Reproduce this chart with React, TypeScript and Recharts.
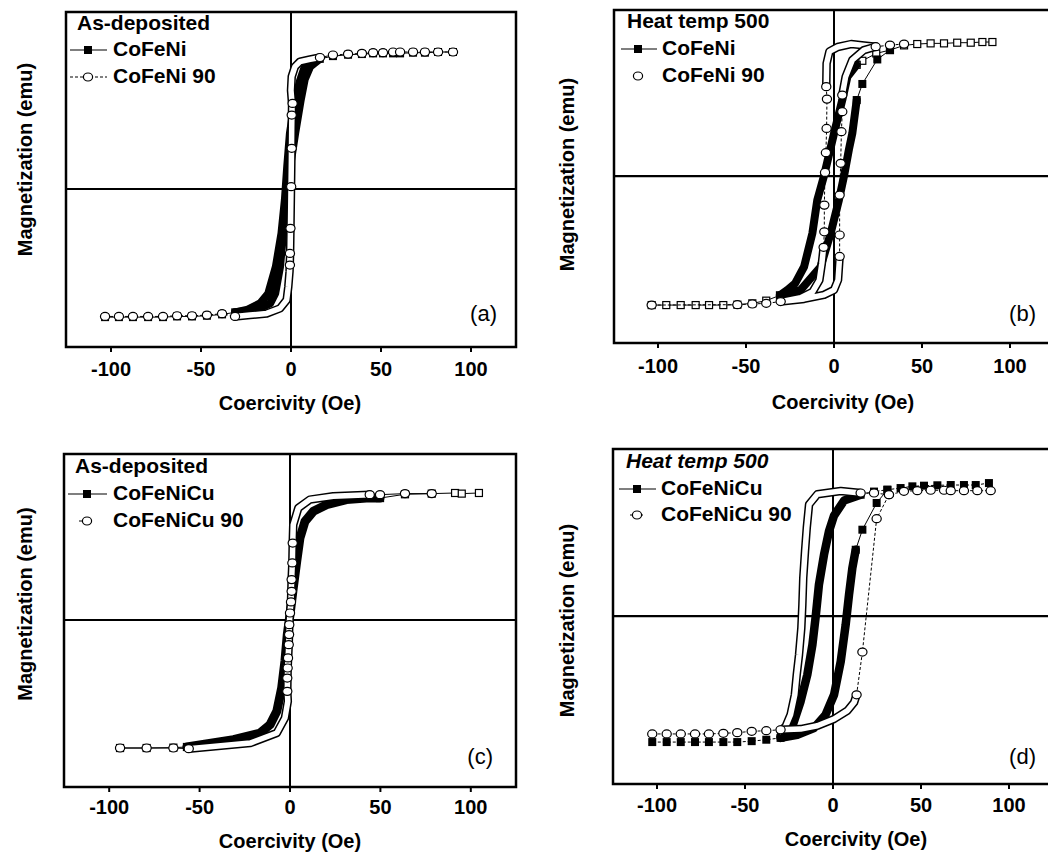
import React from 'react'
import {
  ScatterChart,
  Scatter,
  XAxis,
  YAxis,
  ReferenceLine,
  ReferenceArea,
  Legend,
  Label,
} from 'recharts'

type Pt = [number, number]

const FONT = "'Liberation Sans', Arial, Helvetica, sans-serif"
const coercivityTicks = [-100, -50, 0, 50, 100]
const xLabel = 'Coercivity (Oe)'
const yLabel = 'Magnetization (emu)'

// (a) as-deposited CoFeNi / CoFeNi 90
const aFilledDesc: Pt[] = [[16, 0.95], [10, 0.915], [7.3, 0.88], [5, 0.79], [2.3, 0.65], [-0.6, 0.406], [-2.1, 0.163], [-3.4, -0.08], [-5.3, -0.324], [-8.4, -0.567], [-12.6, -0.762], [-17.2, -0.835], [-24, -0.88], [-31, -0.9]]
const aFilledAsc: Pt[] = [[-31, -0.9], [-20, -0.885], [-11.6, -0.835], [-8.8, -0.762], [-6.1, -0.567], [-4.4, -0.324], [-2, -0.08], [-0.5, 0.163], [2.3, 0.406], [5.4, 0.65], [7.6, 0.8], [10.6, 0.893], [16, 0.95]]
const aFilledLow: Pt[] = [[-103.3, -0.935], [-95.6, -0.935], [-87.8, -0.935], [-79.4, -0.935], [-71.1, -0.935], [-63.3, -0.93], [-55, -0.93], [-46.7, -0.925], [-38.3, -0.915], [-31, -0.9]]
const aFilledHigh: Pt[] = [[16, 0.95], [23.3, 0.97], [31.7, 0.98], [39.4, 0.985], [45.6, 0.99], [51.1, 0.99], [56.7, 0.99], [60.6, 0.99], [67.8, 0.995], [74.4, 0.995], [81.7, 1], [90, 1]]
const aOpenTube: Pt[] = [[16.1, 0.96], [10.6, 0.946], [5, 0.93], [2.2, 0.893], [0.4, 0.82], [0, 0.72], [0.6, 0.62], [0.4, 0.45], [0.2, 0.2], [0, 0], [-0.3, -0.29], [-0.5, -0.47], [-0.8, -0.6], [-1.5, -0.713], [-2.4, -0.81], [-6.1, -0.871], [-13.5, -0.908], [-22.8, -0.92], [-31.1, -0.93]]
const aOpenMid: Pt[] = [[0.9, 0.625], [0.4, 0.54], [0.4, 0.297], [0.1, 0.017], [-0.3, -0.287], [-0.6, -0.47], [-0.6, -0.555]]
const aOpenLow: Pt[] = [[-103.3, -0.93], [-95.6, -0.93], [-87.8, -0.93], [-79.4, -0.93], [-71.1, -0.93], [-63.3, -0.925], [-55, -0.925], [-46.7, -0.92], [-38.3, -0.91], [-31.1, -0.93]]
const aOpenHigh: Pt[] = [[16.1, 0.96], [23.3, 0.978], [31.7, 0.985], [39.4, 0.99], [45.6, 0.995], [51.1, 0.995], [56.7, 1], [60.6, 1], [67.8, 1], [74.4, 1], [81.7, 1], [90, 1]]

// (b) heat temp 500 CoFeNi / CoFeNi 90
const bFilledDesc: Pt[] = [[12.9, 0.83], [7.6, 0.74], [4.7, 0.567], [0, 0.318], [-5.7, 0], [-9.5, -0.179], [-12.3, -0.428], [-17, -0.677], [-22, -0.8], [-26.5, -0.85], [-30.7, -0.89]]
const bFilledAsc: Pt[] = [[-30.7, -0.89], [-18.9, -0.85], [-7.6, -0.677], [-1.9, -0.428], [2.8, -0.179], [5.7, 0], [8.5, 0.2], [10.4, 0.318], [12.9, 0.567]]
const bFilledHigh: Pt[] = [[90, 1], [84.3, 1], [77.7, 0.995], [70, 0.995], [62.5, 0.99], [54.9, 0.99], [47.3, 0.985], [39.8, 0.975], [31.8, 0.94], [24, 0.915], [16.1, 0.86], [12.9, 0.83]]
const bFilledRise: Pt[] = [[12.9, 0.567], [16.1, 0.687], [24.6, 0.87], [31.8, 0.94]]
const bFilledLow: Pt[] = [[-30.7, -0.89], [-38.5, -0.93], [-46.4, -0.95], [-54.9, -0.96], [-62.9, -0.963], [-71, -0.963], [-78.6, -0.963], [-87.1, -0.963], [-95.3, -0.963], [-103.6, -0.963]]
const bOpenTubeTop: Pt[] = [[23.7, 0.965], [17, 0.975], [9.7, 0.985], [2.1, 0.963], [-2.6, 0.93], [-4.2, 0.84], [-4.4, 0.667]]
const bOpenLeft: Pt[] = [[-4.4, 0.667], [-4, 0.574], [-4.2, 0.355], [-4.6, 0.174], [-5.1, 0.027], [-5.5, -0.217], [-5.5, -0.416], [-5.9, -0.532]]
const bOpenTubeLow: Pt[] = [[-5.9, -0.532], [-6.9, -0.652], [-8.3, -0.776], [-12.1, -0.863], [-18.9, -0.908], [-30.3, -0.937], [-17, -0.917], [-5.7, -0.887], [0, -0.85], [2.3, -0.776], [3.2, -0.6]]
const bOpenRight: Pt[] = [[3.2, -0.6], [3.2, -0.44], [3.2, -0.142], [3.8, 0.095], [4.2, 0.331], [4.7, 0.48], [4.7, 0.604]]
const bOpenTubeRight: Pt[] = [[4.7, 0.604], [6.6, 0.741], [10.4, 0.866], [17, 0.94], [23.7, 0.965]]
const bOpenHigh: Pt[] = [[23.7, 0.965], [31.8, 0.977], [39.8, 0.985]]
const bOpenLow: Pt[] = [[-30.3, -0.937], [-38.5, -0.95], [-46.4, -0.955], [-54.9, -0.96], [-103.6, -0.963]]

// (c) as-deposited CoFeNiCu / CoFeNiCu 90
const cFilledBand: Pt[] = [[-57, -1.0], [-31.2, -0.942], [-16.5, -0.89], [-11, -0.824], [-7.3, -0.719], [-4.6, -0.535], [-2.8, -0.325], [-1.5, -0.115], [0, 0.042], [1.8, 0.252], [3.7, 0.462], [5.5, 0.646], [8.3, 0.777], [12.9, 0.856], [20.2, 0.908], [31.2, 0.948], [42.2, 0.961], [49.8, 0.96]]
const cFilledHigh: Pt[] = [[49.8, 0.96], [63.6, 0.99], [78.4, 0.995], [91.3, 1], [95, 0.995], [104.5, 1]]
const cFilledLow: Pt[] = [[-57, -1.0], [-64.5, -1.005], [-79.3, -1.008], [-94, -1.008]]
const cOpenTube: Pt[] = [[44.1, 0.987], [23.9, 0.974], [11, 0.948], [4.6, 0.882], [1.8, 0.75], [1.5, 0.606], [1.3, 0.449], [0.9, 0.318], [0.55, 0.142], [0, 0.055], [-0.4, -0.037], [-0.7, -0.194], [-1.3, -0.378], [-1.5, -0.562], [-1.2, -0.64], [-2.8, -0.772], [-7.3, -0.89], [-22, -0.969], [-56, -1.013]]
const cOpenMid: Pt[] = [[1.5, 0.606], [1.3, 0.449], [0.9, 0.318], [0.9, 0.226], [0.55, 0.142], [0, 0.055], [-0.4, -0.037], [-0.5, -0.115], [-0.7, -0.194], [-1.1, -0.299], [-1.3, -0.378], [-1.5, -0.457], [-1.5, -0.562]]
const cOpenHigh: Pt[] = [[44.1, 0.987], [49.8, 0.987], [63.6, 0.995], [78.4, 0.995]]
const cOpenLow: Pt[] = [[-56, -1.013], [-64.5, -1.008], [-79.3, -1.008], [-94, -1.008]]

// (d) heat temp 500 CoFeNiCu / CoFeNiCu 90
const dFilledDesc: Pt[] = [[15.7, 0.926], [6.3, 0.881], [0.6, 0.767], [-2.3, 0.646], [-5.1, 0.468], [-8, 0.239], [-9.8, 0], [-11.7, -0.219], [-14.6, -0.448], [-18.4, -0.651], [-23.1, -0.842], [-29.8, -0.919]]
const dFilledAsc: Pt[] = [[-29.8, -0.93], [-20.3, -0.906], [-10.8, -0.855], [-4.2, -0.753], [0.6, -0.601], [4.4, -0.346], [7.2, -0.066], [9.1, 0.163], [11, 0.366], [12.9, 0.506]]
const dFilledRise: Pt[] = [[12.9, 0.506], [16.7, 0.659], [24.8, 0.863], [30.9, 0.964]]
const dFilledHigh: Pt[] = [[88.6, 1.015], [81.1, 1], [74.4, 1], [66.9, 1], [59.3, 0.998], [51.7, 0.995], [45.1, 0.99], [38.4, 0.977], [30.9, 0.964], [23.3, 0.95], [15.7, 0.926]]
const dFilledLow: Pt[] = [[-29.8, -0.93], [-37.9, -0.944], [-46.2, -0.955], [-54.4, -0.962], [-62.3, -0.962], [-70.5, -0.962], [-78.4, -0.962], [-86.5, -0.962], [-94.5, -0.962], [-102.7, -0.962]]
const dOpenTubeDesc: Pt[] = [[15.7, 0.939], [4.4, 0.954], [-8.9, 0.929], [-13.6, 0.852], [-14.9, 0.674], [-15.9, 0.494], [-16.9, 0.29], [-17.4, 0.087], [-18, -0.092], [-19.3, -0.295], [-20.6, -0.448], [-21.7, -0.601], [-24.1, -0.753], [-26.9, -0.842], [-29.8, -0.88]]
const dOpenTubeAsc: Pt[] = [[-29.8, -0.868], [-18.4, -0.863], [-8.9, -0.837], [0.6, -0.786], [8.2, -0.722], [12, -0.659], [13.4, -0.601]]
const dOpenRise: Pt[] = [[13.4, -0.601], [16.7, -0.275], [24.8, 0.743], [31.8, 0.926]]
const dOpenHigh: Pt[] = [[15.7, 0.939], [23.3, 0.939], [31.8, 0.926], [40.3, 0.952], [47.9, 0.957], [55.5, 0.96], [63.1, 0.96], [66.9, 0.957], [74.4, 0.957], [82, 0.957], [89.6, 0.957]]
const dOpenLow: Pt[] = [[-29.8, -0.868], [-37.9, -0.875], [-46.2, -0.88], [-54.4, -0.89], [-62.3, -0.895], [-70.5, -0.9], [-78.4, -0.9], [-86.5, -0.9], [-94.5, -0.9], [-102.7, -0.9]]

const rows = (pts: Pt[]) => pts.map(([x, y]) => ({ x, y }))

const noShape = () => <g />
const filledSquare = (p: any) => (
  <rect x={p.cx - 4} y={p.cy - 4} width={8} height={8} fill='#000' />
)
const hollowSquare = (p: any) => (
  <rect x={p.cx - 3.5} y={p.cy - 3.5} width={7} height={7} fill='#fff' stroke='#000' strokeWidth={1.2} />
)
const hollowCircle = (p: any) => (
  <ellipse cx={p.cx} cy={p.cy} rx={4.6} ry={4} fill='#fff' stroke='#000' strokeWidth={1.2} />
)

const band = (key: string, pts: Pt[], width = 7) => (
  <Scatter
    key={key}
    data={rows(pts)}
    fill='#000'
    shape={noShape}
    line={{ stroke: '#000', strokeWidth: width, strokeLinejoin: 'round', strokeLinecap: 'round' }}
    isAnimationActive={false}
  />
)

const tube = (key: string, pts: Pt[]) => [
  band(key + '-outer', pts, 8.5),
  <Scatter
    key={key + '-inner'}
    data={rows(pts)}
    fill='#fff'
    shape={noShape}
    line={{ stroke: '#fff', strokeWidth: 5.5, strokeLinejoin: 'round', strokeLinecap: 'round' }}
    isAnimationActive={false}
  />,
]

const marks = (key: string, pts: Pt[], shape: any, dashed: boolean, joined = true) => (
  <Scatter
    key={key}
    data={rows(pts)}
    fill='#000'
    shape={shape}
    line={joined ? { stroke: '#000', strokeWidth: 1, strokeDasharray: dashed ? '3 2' : undefined } : false}
    isAnimationActive={false}
  />
)

interface LegendCfg {
  title: string
  italic?: boolean
  filled: string
  open: string
  titleX: number
  titleY: number
  textX: number
  rowY: [number, number]
  lineFrom: number
  lineTo: number
  markX: number
  openLine?: [number, number]
}

const LegendBox = ({ cfg }: { cfg: LegendCfg }) => {
  const m1 = cfg.rowY[0] - 6
  const m2 = cfg.rowY[1] - 6
  const txt = { fontFamily: FONT, fontWeight: 700, fontSize: 21, fill: '#000' }
  return (
    <svg width={300} height={90} style={{ display: 'block', overflow: 'visible' }}>
      <text x={cfg.titleX} y={cfg.titleY} fontStyle={cfg.italic ? 'italic' : 'normal'} {...txt}>
        {cfg.title}
      </text>
      <line x1={cfg.lineFrom} x2={cfg.lineTo} y1={m1} y2={m1} stroke='#000' strokeWidth={1.2} />
      <rect x={cfg.markX - 4} y={m1 - 4} width={8} height={8} fill='#000' />
      <text x={cfg.textX} y={cfg.rowY[0]} {...txt}>{cfg.filled}</text>
      {cfg.openLine && (
        <line x1={cfg.openLine[0]} x2={cfg.openLine[1]} y1={m2} y2={m2} stroke='#000' strokeWidth={1} strokeDasharray='3 2' />
      )}
      <ellipse cx={cfg.markX} cy={m2} rx={4.6} ry={4} fill='#fff' stroke='#000' strokeWidth={1.2} />
      <text x={cfg.textX} y={cfg.rowY[1]} {...txt}>{cfg.open}</text>
    </svg>
  )
}

interface PanelProps {
  left: number
  top: number
  plotW: number
  plotH: number
  yDomain: [number, number]
  yLabelX: number
  yLabelDy: number
  xLabelDx: number
  xLabelDy: number
  tickMargin: number
  letter: string
  letterRight: number
  letterUp: number
  legend: LegendCfg
  children: React.ReactNode
}

const Panel = (p: PanelProps) => {
  const yw = 100
  const xh = 80
  const px = yw
  const py = 4
  return (
    <div style={{ position: 'absolute', left: p.left - yw, top: p.top - py }}>
      <ScatterChart
        width={yw + p.plotW + 10}
        height={py + p.plotH + xh}
        margin={{ top: py, right: 10, left: 0, bottom: 0 }}
      >
        <XAxis
          type='number'
          dataKey='x'
          domain={[-125, 125]}
          ticks={coercivityTicks}
          allowDataOverflow
          height={xh}
          axisLine={false}
          tickSize={5}
          tickMargin={p.tickMargin}
          tickLine={{ stroke: '#000', strokeWidth: 2 }}
          tick={{ fill: '#000', fontSize: 20, fontWeight: 700, fontFamily: FONT }}
        >
          <Label
            content={() => (
              <text
                x={px + p.plotW / 2 + p.xLabelDx}
                y={py + p.plotH + p.xLabelDy}
                textAnchor='middle'
                dominantBaseline='central'
                fontFamily={FONT}
                fontWeight={700}
                fontSize={20}
                fill='#000'
              >
                {xLabel}
              </text>
            )}
          />
        </XAxis>
        <YAxis
          type='number'
          dataKey='y'
          domain={p.yDomain}
          allowDataOverflow
          width={yw}
          axisLine={false}
          tickLine={false}
          tick={false}
        >
          <Label
            content={() => {
              const cx = px + p.yLabelX
              const cy = py + p.plotH / 2 + p.yLabelDy
              return (
                <text
                  x={cx}
                  y={cy}
                  transform={`rotate(-90 ${cx} ${cy})`}
                  textAnchor='middle'
                  dominantBaseline='central'
                  fontFamily={FONT}
                  fontWeight={700}
                  fontSize={20}
                  fill='#000'
                >
                  {yLabel}
                </text>
              )
            }}
          />
        </YAxis>
        <ReferenceLine x={0} stroke='#000' strokeWidth={2} />
        <ReferenceLine y={0} stroke='#000' strokeWidth={2.2} />
        {p.children}
        <ReferenceArea
          x1={-125}
          x2={125}
          y1={p.yDomain[0]}
          y2={p.yDomain[1]}
          fill='none'
          fillOpacity={0}
          stroke='#000'
          strokeWidth={2.5}
        >
          <Label
            content={() => (
              <text
                x={px + p.plotW - p.letterRight}
                y={py + p.plotH - p.letterUp}
                textAnchor='end'
                fontFamily={FONT}
                fontSize={22}
                fill='#000'
              >
                {p.letter}
              </text>
            )}
          />
        </ReferenceArea>
        <Legend
          layout='vertical'
          align='center'
          verticalAlign='middle'
          wrapperStyle={{ left: px, top: py, width: 300, height: 90 }}
          content={() => <LegendBox cfg={p.legend} />}
        />
      </ScatterChart>
    </div>
  )
}

const legendA: LegendCfg = { title: 'As-deposited', filled: 'CoFeNi', open: 'CoFeNi 90', titleX: 11, titleY: 18, textX: 47, rowY: [44, 71], lineFrom: 4, lineTo: 41, markX: 22, openLine: [4, 41] }
const legendB: LegendCfg = { title: 'Heat temp 500', filled: 'CoFeNi', open: 'CoFeNi 90', titleX: 13, titleY: 18, textX: 48, rowY: [45, 72], lineFrom: 7, lineTo: 43, markX: 24 }
const legendC: LegendCfg = { title: 'As-deposited', filled: 'CoFeNiCu', open: 'CoFeNiCu 90', titleX: 11, titleY: 19, textX: 49, rowY: [46, 73], lineFrom: 4, lineTo: 43, markX: 23, openLine: [15, 30] }
const legendD: LegendCfg = { title: 'Heat temp 500', italic: true, filled: 'CoFeNiCu', open: 'CoFeNiCu 90', titleX: 13, titleY: 19, textX: 48, rowY: [46, 72], lineFrom: 6, lineTo: 43, markX: 24, openLine: [17, 30] }

const App = () => (
  <div
    style={{
      position: 'absolute',
      left: 0,
      top: 0,
      width: 1048,
      height: 856,
      overflow: 'hidden',
      background: '#fff',
    }}
  >
    <Panel left={66} top={12} plotW={450} plotH={335} yDomain={[-1.153, 1.292]} yLabelX={-41} yLabelDy={-20} xLabelDx={-1} xLabelDy={56} tickMargin={10} letter='(a)' letterRight={19} letterUp={26} legend={legendA}>
      {marks('aFL', aFilledLow, filledSquare, false)}
      {marks('aFH', aFilledHigh, filledSquare, false)}
      {band('aFD', aFilledDesc, 8)}
      {band('aFA', aFilledAsc, 8)}
      {tube('aOT', aOpenTube)}
      {marks('aOL', aOpenLow, hollowCircle, true)}
      {marks('aOH', aOpenHigh, hollowCircle, true)}
      {marks('aOM', aOpenMid, hollowCircle, false, false)}
    </Panel>
    <Panel left={614} top={10} plotW={440} plotH={333} yDomain={[-1.246, 1.239]} yLabelX={-47} yLabelDy={-2} xLabelDx={9} xLabelDy={59} tickMargin={11} letter='(b)' letterRight={18} letterUp={22.5} legend={legendB}>
      {marks('bFL', bFilledLow, hollowSquare, false)}
      {marks('bFH', bFilledHigh, hollowSquare, false)}
      {marks('bFR', bFilledRise, filledSquare, false)}
      {band('bFD', bFilledDesc, 8)}
      {band('bFA', bFilledAsc, 8)}
      {tube('bOT1', bOpenTubeTop)}
      {tube('bOT2', bOpenTubeLow)}
      {tube('bOT3', bOpenTubeRight)}
      {marks('bOLf', bOpenLeft, hollowCircle, true)}
      {marks('bORt', bOpenRight, hollowCircle, true)}
      {marks('bOH', bOpenHigh, hollowCircle, true)}
      {marks('bOL', bOpenLow, hollowCircle, true)}
    </Panel>
    <Panel left={64} top={454} plotW={452} plotH={333} yDomain={[-1.315, 1.307]} yLabelX={-39} yLabelDy={-16.5} xLabelDx={0} xLabelDy={53.5} tickMargin={8} letter='(c)' letterRight={23} letterUp={23.5} legend={legendC}>
      {marks('cFL', cFilledLow, hollowSquare, false)}
      {marks('cFH', cFilledHigh, hollowSquare, false)}
      {band('cFB', cFilledBand, 9)}
      {tube('cOT', cOpenTube)}
      {marks('cOL', cOpenLow, hollowCircle, false)}
      {marks('cOH', cOpenHigh, hollowCircle, false)}
      {marks('cOM', cOpenMid, hollowCircle, false, false)}
    </Panel>
    <Panel left={613} top={449} plotW={440} plotH={335} yDomain={[-1.282, 1.275]} yLabelX={-46} yLabelDy={4} xLabelDx={23} xLabelDy={55} tickMargin={9} letter='(d)' letterRight={17} letterUp={20.5} legend={legendD}>
      {marks('dFL', dFilledLow, filledSquare, true)}
      {marks('dFH', dFilledHigh, filledSquare, true)}
      {marks('dFR', dFilledRise, filledSquare, false)}
      {band('dFD', dFilledDesc, 8.5)}
      {band('dFA', dFilledAsc, 8.5)}
      {tube('dOT1', dOpenTubeDesc)}
      {tube('dOT2', dOpenTubeAsc)}
      {marks('dOR', dOpenRise, hollowCircle, true)}
      {marks('dOH', dOpenHigh, hollowCircle, true)}
      {marks('dOL', dOpenLow, hollowCircle, true)}
    </Panel>
  </div>
)

export default App
